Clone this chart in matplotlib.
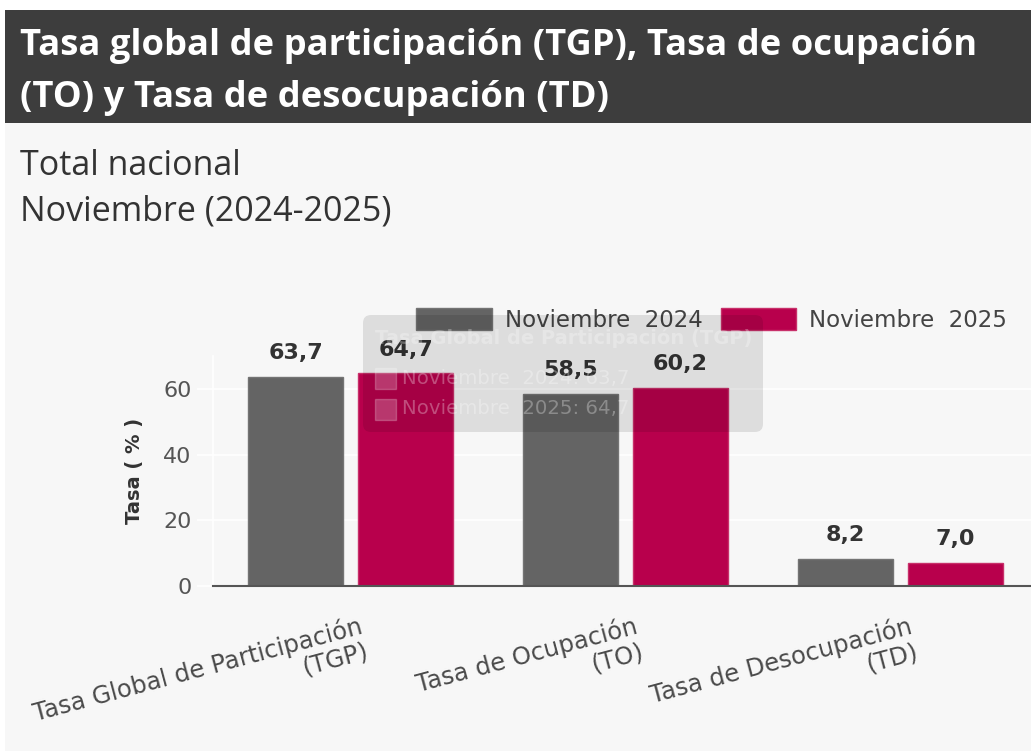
import matplotlib
matplotlib.use("Agg")
import matplotlib.pyplot as plt
import matplotlib.transforms as mtransforms
from matplotlib.patches import Rectangle, FancyBboxPatch
import numpy as np

# ---------------- data ----------------
categories = ["Tasa Global de Participación\n(TGP)", "Tasa de Ocupación\n(TO)", "Tasa de Desocupación\n(TD)"]
series_names = ["Noviembre  2024", "Noviembre  2025"]
values_2024 = [63.7, 58.5, 8.2]
values_2025 = [64.7, 60.2, 7.0]
y_ticks = [0, 20, 40, 60]
title_lines = ["Tasa global de participación (TGP), Tasa de ocupación", "(TO) y Tasa de desocupación (TD)"]
subtitle_lines = ["Total nacional", "Noviembre (2024-2025)"]
tooltip_title = "Tasa Global de Participación (TGP)"
tooltip_rows = ["Noviembre  2024: 63,7", "Noviembre  2025: 64,7"]

W, H = 1031, 752
GRAY = "#646464"
RED = "#b8004c"
BG = "#f7f7f7"

fig = plt.figure(figsize=(W / 100, H / 100), dpi=100, facecolor="white")
# pixel transform (origin top-left)
PX = mtransforms.Affine2D().scale(1 / 100, -1 / 100).translate(0, H / 100) + fig.dpi_scale_trans

# backgrounds
fig.patches.append(Rectangle((5, 10), W - 5, H - 11, transform=PX, facecolor=BG, edgecolor="none", zorder=-10))
fig.patches.append(Rectangle((5, 10), W - 5, 113, transform=PX, facecolor="#3d3d3d", edgecolor="none", zorder=-9))

# title
fig.text(20, 55, title_lines[0], transform=PX, color="white", fontsize=26.2, fontweight="bold",
         family="Open Sans", va="baseline", ha="left")
fig.text(20, 107, title_lines[1], transform=PX, color="white", fontsize=26.2, fontweight="bold",
         family="Open Sans", va="baseline", ha="left")
# subtitle
fig.text(20, 175, subtitle_lines[0], transform=PX, color="#333333", fontsize=24.5,
         family="Open Sans", va="baseline", ha="left")
fig.text(20, 220, subtitle_lines[1], transform=PX, color="#333333", fontsize=24.5,
         family="Open Sans", va="baseline", ha="left")

# ---------------- axes ----------------
ax_left, ax_right = 213, W
y0_px, ytop_px = 586, 356
ax = fig.add_axes([ax_left / W, 1 - y0_px / H, (ax_right - ax_left) / W, (y0_px - ytop_px) / H])
ax.set_facecolor("none")
group_px = 275.0
ax.set_xlim(-0.5, -0.5 + (ax_right - ax_left) / group_px)
ax.set_ylim(0, 70)

x = np.arange(len(categories))
off, bw = 0.2, 0.345
b1 = ax.bar(x - off, values_2024, bw, color=GRAY, edgecolor="#747474", linewidth=1, label=series_names[0], zorder=3)
b2 = ax.bar(x + off, values_2025, bw, color=RED, edgecolor="#c8306a", linewidth=1, label=series_names[1], zorder=3)

for cont, vals in ((b1, values_2024), (b2, values_2025)):
    ax.bar_label(cont, labels=[f"{v:.1f}".replace(".", ",") for v in vals], padding=10,
                 fontsize=16, fontweight="bold", color="#333333", family="DejaVu Sans", zorder=4)

ax.set_yticks(y_ticks)
ax.set_yticklabels([str(t) for t in y_ticks], fontsize=16, color="#555555", family="DejaVu Sans")
ax.yaxis.grid(True, color="white", linewidth=1.2, zorder=0)
ax.set_axisbelow(True)
ax.tick_params(axis="y", length=11.5, width=1.2, color="white", pad=4)
ax.yaxis.get_major_ticks()[0].tick1line.set_color("#555555")
for s in ("top", "right"):
    ax.spines[s].set_visible(False)
ax.spines["left"].set_color("white")
ax.spines["left"].set_linewidth(1.2)
ax.spines["bottom"].set_color("#555555")
ax.spines["bottom"].set_linewidth(1.5)
ax.spines["bottom"].set_zorder(5)

ax.set_ylabel("Tasa ( % )", fontsize=14, fontweight="bold", color="#333333", family="DejaVu Sans", labelpad=14)

ax.set_xticks(x)
ax.set_xticklabels(categories, rotation=15, ha="right", va="top", rotation_mode="anchor",
                   fontsize=17.5, color="#4a4a4a", family="DejaVu Sans", multialignment="right",
                   linespacing=1.05)
ax.tick_params(axis="x", length=0, pad=20)
shift = mtransforms.ScaledTranslation(8 / 100, 0, fig.dpi_scale_trans)
for lab in ax.get_xticklabels():
    lab.set_transform(lab.get_transform() + shift)

# legend
fs_leg = 16.5
fig.legend(handles=[b1, b2], labels=series_names, loc="upper left",
           bbox_to_anchor=(416 / W, 1 - 308 / H), ncol=2, frameon=False,
           prop={"family": "DejaVu Sans", "size": fs_leg},
           handlelength=3.3, handleheight=1.09, handletextpad=0.57, columnspacing=0.8,
           borderpad=0, borderaxespad=0, labelcolor="#444444")

# tooltip overlay
fig.patches.append(FancyBboxPatch((363, 315), 400, 117, transform=PX,
                                  boxstyle="round,pad=0,rounding_size=8",
                                  facecolor="black", alpha=0.10, edgecolor="none", zorder=20))
fig.text(375, 344, tooltip_title, transform=PX, color="white", alpha=0.28, fontsize=14, fontweight="bold",
         family="DejaVu Sans", va="baseline", ha="left", zorder=21)
for i, row in enumerate(tooltip_rows):
    yc = 378 + 31 * i
    fig.patches.append(Rectangle((375, yc - 10.5), 21, 21, transform=PX, facecolor="white", alpha=0.22,
                                 edgecolor="white", linewidth=1, zorder=21))
    fig.text(402, yc, row, transform=PX, color="white", alpha=0.3, fontsize=14.2,
             family="DejaVu Sans", va="center", ha="left", zorder=21)

fig.savefig("out.png", dpi=100, facecolor=fig.get_facecolor())
